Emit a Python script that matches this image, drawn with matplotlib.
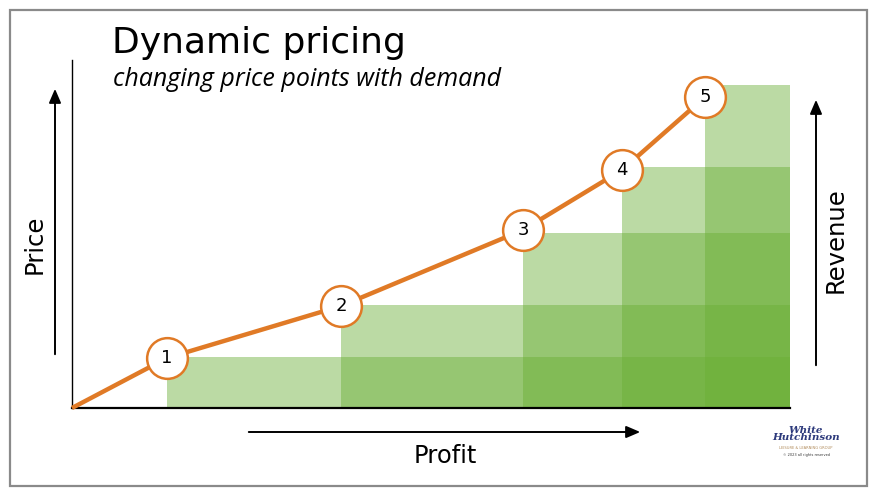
import matplotlib
matplotlib.use("Agg")
import matplotlib.pyplot as plt
from matplotlib.patches import Rectangle, FancyArrowPatch

# Price points (demand level on x, price on y) and revenue block heights
steps = ["1", "2", "3", "4", "5"]
demand = [95, 269, 451, 550, 633]
price = [50, 102, 178, 238, 311]
revenue = [51, 103, 175, 241, 323]
demand_end = 718

ORANGE = "#e07a26"
GREEN = "#6aaf35"

fig = plt.figure(figsize=(8.8, 4.96), dpi=100)
ax = fig.add_axes([0, 0, 1, 1])
ax.set_xlim(-72, 808)
ax.set_ylim(-88, 408)
ax.axis("off")

# outer frame
fig.patches.append(Rectangle((10 / 880, 10 / 496), 857 / 880, 476 / 496,
                             transform=fig.transFigure, fill=False,
                             edgecolor="#8a8a8a", linewidth=1.6, zorder=0))

# stacked translucent revenue blocks
ax.bar(demand, revenue, width=[demand_end - d for d in demand], bottom=0,
       align="edge", color=GREEN, alpha=0.45, linewidth=0, zorder=1)

# axes lines
ax.plot([0, 0], [0, 348], color="black", lw=1.0, zorder=2)
ax.plot([0, demand_end], [0, 0], color="black", lw=1.6, zorder=2)

# price curve and numbered markers
ax.plot([0] + demand, [0] + price, color=ORANGE, lw=3.2, zorder=3,
        solid_capstyle="butt")
ax.scatter(demand, price, s=860, facecolor="white", edgecolor=ORANGE,
           linewidth=1.8, zorder=4)
for lbl, x, y in zip(steps, demand, price):
    ax.text(x, y, lbl, ha="center", va="center", fontsize=13,
            color="black", zorder=5)

# direction arrows
arrow_kw = dict(arrowstyle="-|>,head_length=0.7,head_width=0.3",
                color="black", lw=1.4, mutation_scale=12, zorder=2)
ax.add_patch(FancyArrowPatch((-17, 51), (-17, 322), **arrow_kw))
ax.add_patch(FancyArrowPatch((744, 40), (744, 311), **arrow_kw))
ax.add_patch(FancyArrowPatch((174, -24), (571, -24), **arrow_kw))

# labels
ax.text(-37, 164, "Price", rotation=90, ha="center", va="center", fontsize=17.5)
ax.text(764, 168, "Revenue", rotation=90, ha="center", va="center", fontsize=17.5)
ax.text(373, -48, "Profit", ha="center", va="center", fontsize=17.5)

fig.text(112 / 880, 1 - 43 / 496, "Dynamic pricing", ha="left", va="center",
         fontsize=26, family="DejaVu Sans")
fig.text(113 / 880, 1 - 79 / 496, "changing price points with demand",
         ha="left", va="center", fontsize=18, style="italic", family="Open Sans")

# company mark
fig.text(806 / 880, 1 - 434 / 496, "White\nHutchinson", ha="center", va="center",
         fontsize=7.5, color="#2d3a7c", family="DejaVu Serif", style="italic",
         weight="bold", linespacing=0.8)
fig.text(806 / 880, 1 - 448 / 496, "LEISURE & LEARNING GROUP", ha="center",
         va="center", fontsize=2.6, color="#b08a5a")
fig.text(806 / 880, 1 - 455 / 496, "© 2023 all rights reserved", ha="center",
         va="center", fontsize=2.5, color="#333333")

fig.savefig("out.png", dpi=100, facecolor="white")
